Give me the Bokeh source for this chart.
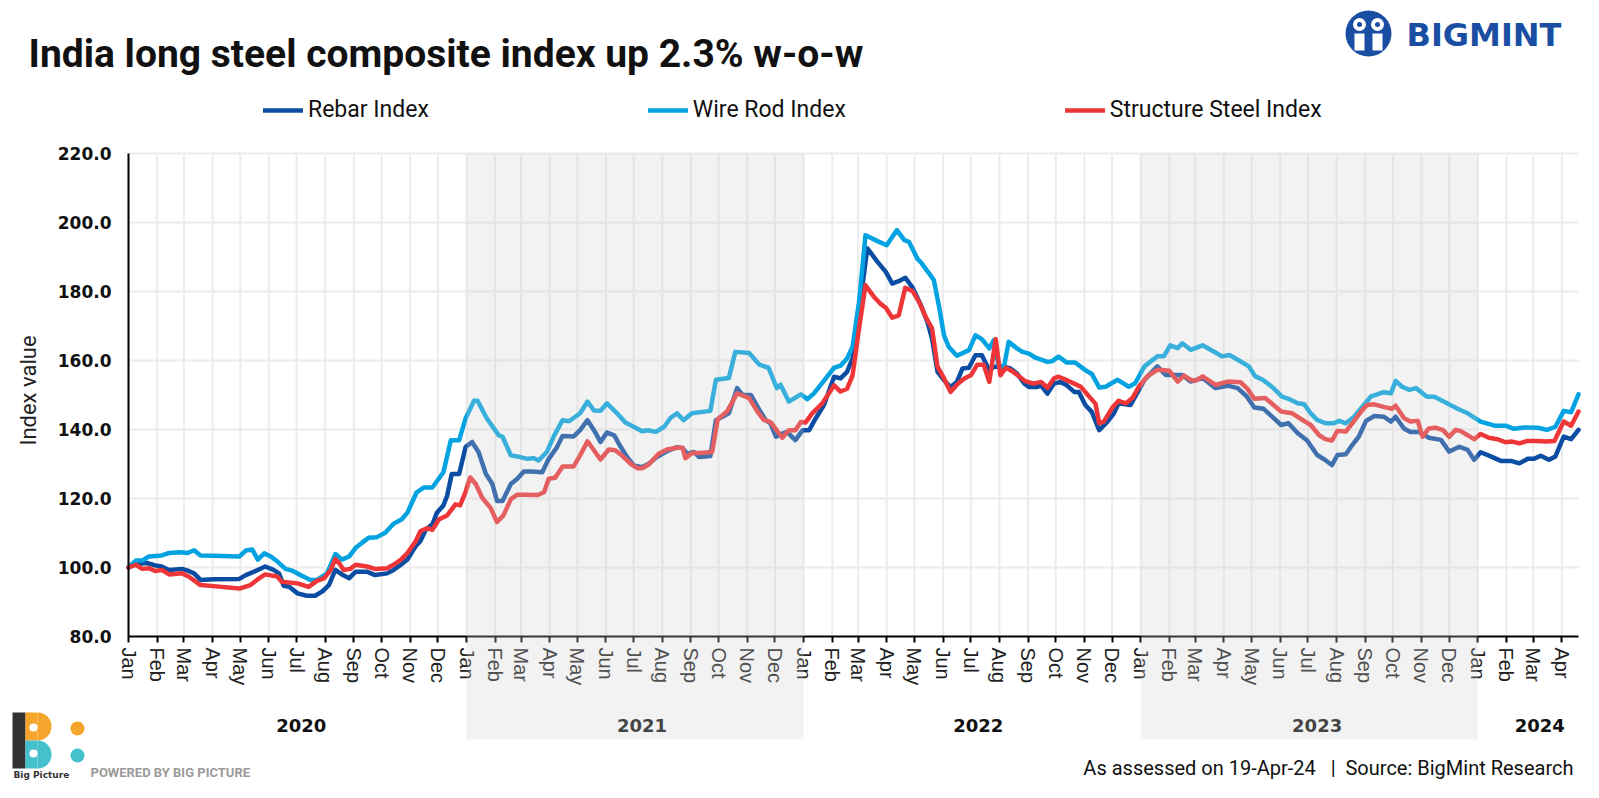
import pandas as pd
from math import pi
from bokeh.plotting import figure
from bokeh.models import (Range1d, FixedTicker, DatetimeTickFormatter, PrintfTickFormatter,
                          BoxAnnotation, Label, Legend, LegendItem)
from bokeh.embed import file_html
from bokeh.resources import INLINE

# ---------------- data (weekly index) ----------------
wire_dates = ["2020-01-01","2020-01-09","2020-01-16","2020-01-23","2020-02-06","2020-02-14","2020-02-26","2020-03-05","2020-03-12","2020-03-19",
"2020-04-02","2020-04-30","2020-05-07","2020-05-14","2020-05-20","2020-05-27","2020-06-03","2020-06-10","2020-06-19","2020-06-26",
"2020-07-05","2020-07-16","2020-07-23","2020-07-29","2020-08-03","2020-08-12","2020-08-19","2020-08-27","2020-09-03","2020-09-10",
"2020-09-17","2020-09-26","2020-10-05","2020-10-14","2020-10-23","2020-10-29","2020-11-08","2020-11-16","2020-11-25","2020-12-07",
"2020-12-15","2020-12-24","2020-12-31","2021-01-09","2021-01-13","2021-01-23","2021-02-05","2021-02-09","2021-02-18","2021-02-25",
"2021-03-08","2021-03-15","2021-03-20","2021-03-29","2021-04-06","2021-04-15","2021-04-22","2021-05-04","2021-05-12","2021-05-19",
"2021-05-26","2021-06-02","2021-06-13","2021-06-22","2021-07-01","2021-07-10","2021-07-16","2021-07-25","2021-08-03","2021-08-10",
"2021-08-17","2021-08-24","2021-09-02","2021-09-22","2021-09-28","2021-10-12","2021-10-19","2021-11-03","2021-11-14","2021-11-24",
"2021-12-03","2021-12-07","2021-12-16","2021-12-29","2022-01-05","2022-01-12","2022-01-25","2022-02-03","2022-02-10","2022-02-17",
"2022-02-23","2022-03-02","2022-03-09","2022-03-22","2022-04-01","2022-04-12","2022-04-20","2022-04-25","2022-05-04","2022-05-09",
"2022-05-17","2022-05-22","2022-05-28","2022-06-02","2022-06-07","2022-06-16","2022-06-29","2022-07-06","2022-07-13","2022-07-21",
"2022-07-26","2022-07-31","2022-08-06","2022-08-11","2022-08-20","2022-08-26","2022-09-02","2022-09-09","2022-09-22","2022-09-27",
"2022-10-04","2022-10-13","2022-10-22","2022-11-02","2022-11-09","2022-11-17","2022-11-24","2022-12-07","2022-12-19","2022-12-26",
"2023-01-05","2023-01-19","2023-01-26","2023-02-02","2023-02-10","2023-02-15","2023-02-24","2023-03-09","2023-03-21","2023-03-30",
"2023-04-07","2023-04-16","2023-04-28","2023-05-05","2023-05-13","2023-05-23","2023-06-03","2023-06-10","2023-06-20","2023-06-27",
"2023-07-04","2023-07-11","2023-07-20","2023-07-29","2023-08-04","2023-08-11","2023-08-20","2023-08-29","2023-09-07","2023-09-21",
"2023-09-29","2023-10-04","2023-10-11","2023-10-19","2023-10-26","2023-11-07","2023-11-15","2023-11-25","2023-12-10","2023-12-21",
"2024-01-04","2024-01-19","2024-01-31","2024-02-09","2024-02-20","2024-03-06","2024-03-16","2024-03-25","2024-04-03","2024-04-11",
"2024-04-19"]
wire_vals = [100.0,102.0,102.0,103.2,103.5,104.2,104.4,104.2,105.0,103.5,
103.4,103.2,104.9,105.2,102.3,104.1,103.2,101.8,99.6,99.1,
97.8,96.4,96.4,97.4,98.3,103.9,102.3,103.2,105.7,107.2,
108.6,108.8,110.1,112.7,114.0,115.9,121.8,123.2,123.2,127.6,
136.9,136.9,143.2,148.3,148.3,143.2,138.3,137.9,132.5,132.2,
131.5,131.7,131.0,133.5,138.3,142.7,142.4,144.7,148.1,145.5,
145.4,147.6,144.7,142.0,140.8,139.5,139.8,139.3,140.8,143.4,
144.7,142.7,144.7,145.4,154.4,154.9,162.5,162.2,158.8,157.9,
152.0,153.0,148.1,150.2,148.8,150.4,154.8,157.9,158.5,160.6,
164.0,177.0,196.3,194.6,193.4,197.8,194.9,194.4,189.6,188.1,
185.2,183.3,175.1,167.3,164.0,161.4,163.0,167.3,166.2,163.5,
165.9,158.6,158.2,165.4,163.5,162.5,162.0,160.8,159.6,159.8,
161.1,159.4,159.4,157.2,156.1,152.2,152.4,154.4,152.4,153.4,
158.3,161.2,161.2,164.4,163.6,165.0,163.1,164.4,162.6,161.2,
161.6,160.2,158.3,155.4,154.4,152.4,149.5,148.9,147.6,147.3,
144.7,142.8,141.8,141.8,142.5,141.8,143.7,146.6,149.5,150.8,
150.5,154.1,152.4,151.5,152.0,149.5,149.5,148.1,146.0,144.7,
142.3,141.1,141.1,140.2,140.6,140.5,139.9,140.8,145.4,145.0,
150.2]

rebar_dates = ["2020-01-01","2020-01-09","2020-01-21","2020-01-30","2020-02-06","2020-02-14","2020-02-28","2020-03-06","2020-03-12","2020-03-19",
"2020-04-02","2020-04-30","2020-05-07","2020-05-16","2020-05-28","2020-06-06","2020-06-12","2020-06-17","2020-06-23","2020-07-02",
"2020-07-12","2020-07-21","2020-07-29","2020-08-05","2020-08-12","2020-08-19","2020-08-27","2020-09-03","2020-09-15","2020-09-24",
"2020-10-07","2020-10-14","2020-10-22","2020-10-29","2020-11-07","2020-11-12","2020-11-18","2020-11-25","2020-11-30","2020-12-07",
"2020-12-11","2020-12-16","2020-12-24","2020-12-31","2021-01-07","2021-01-14","2021-01-22","2021-01-29","2021-02-03","2021-02-09",
"2021-02-18","2021-02-25","2021-03-04","2021-03-13","2021-03-24","2021-03-31","2021-04-09","2021-04-15","2021-04-27","2021-05-04",
"2021-05-12","2021-05-19","2021-05-26","2021-06-02","2021-06-10","2021-06-17","2021-06-24","2021-07-01","2021-07-10","2021-07-17",
"2021-07-26","2021-08-06","2021-08-17","2021-08-23","2021-08-28","2021-09-04","2021-09-10","2021-09-22","2021-09-28","2021-10-12",
"2021-10-21","2021-10-27","2021-11-05","2021-11-14","2021-11-21","2021-11-26","2021-12-02","2021-12-09","2021-12-14","2021-12-23",
"2021-12-31","2022-01-07","2022-01-14","2022-01-23","2022-02-03","2022-02-10","2022-02-17","2022-02-23","2022-03-02","2022-03-11",
"2022-03-22","2022-03-31","2022-04-07","2022-04-14","2022-04-21","2022-04-29","2022-05-08","2022-05-15","2022-05-20","2022-05-26",
"2022-06-02","2022-06-09","2022-06-16","2022-06-22","2022-06-29","2022-07-06","2022-07-13","2022-07-21","2022-07-26","2022-08-06",
"2022-08-13","2022-08-20","2022-08-28","2022-09-02","2022-09-11","2022-09-15","2022-09-22","2022-09-29","2022-10-06","2022-10-13",
"2022-10-21","2022-10-26","2022-11-02","2022-11-09","2022-11-17","2022-11-26","2022-12-03","2022-12-08","2022-12-21","2022-12-26",
"2023-01-05","2023-01-19","2023-01-28","2023-02-04","2023-02-15","2023-02-24","2023-03-09","2023-03-23","2023-04-05","2023-04-16",
"2023-04-26","2023-05-04","2023-05-14","2023-05-25","2023-06-02","2023-06-10","2023-06-20","2023-06-30","2023-07-11","2023-07-20",
"2023-07-27","2023-08-02","2023-08-11","2023-08-18","2023-08-25","2023-09-02","2023-09-11","2023-09-21","2023-09-29","2023-10-04",
"2023-10-13","2023-10-20","2023-10-29","2023-11-09","2023-11-22","2023-12-01","2023-12-12","2023-12-21","2023-12-28","2024-01-04",
"2024-01-15","2024-01-26","2024-02-06","2024-02-15","2024-02-24","2024-03-02","2024-03-09","2024-03-18","2024-03-25","2024-04-03",
"2024-04-11","2024-04-19"]
rebar_vals = [100.0,101.0,101.3,100.6,100.3,99.3,99.6,99.0,98.3,96.4,
96.6,96.7,97.8,98.8,100.3,99.3,98.3,94.7,94.4,92.5,
91.8,91.8,93.1,94.9,99.3,98.0,96.9,98.8,98.8,97.8,
98.3,99.3,100.8,102.3,106.2,107.6,111.0,112.5,115.9,118.0,
120.8,127.1,127.1,134.9,136.4,133.5,127.1,124.2,119.3,119.3,
124.2,125.7,127.8,127.8,127.6,131.5,134.9,138.1,138.0,139.8,
142.7,139.8,136.4,139.1,138.3,134.9,132.0,129.6,129.1,130.0,
132.0,133.7,134.9,134.6,133.0,133.5,132.0,132.3,142.7,144.7,
152.0,150.0,150.0,145.7,142.7,141.8,137.9,138.8,139.3,136.9,
139.8,139.8,143.2,147.1,155.3,154.8,156.7,160.6,174.1,192.5,
188.6,185.7,182.3,183.0,184.0,181.1,176.0,171.2,166.4,156.7,
154.3,152.3,153.8,157.7,157.9,161.5,161.5,157.2,158.2,158.2,
157.7,156.2,153.3,152.3,152.3,152.8,150.4,153.3,153.8,152.8,
150.9,150.9,147.1,145.1,139.8,142.3,144.7,147.6,147.1,149.5,
154.4,158.3,155.8,155.8,155.8,153.9,154.9,152.0,152.7,152.0,
149.5,146.4,146.0,143.3,141.3,141.8,138.9,136.9,132.6,131.1,
129.7,132.6,132.8,135.5,137.9,142.5,143.9,143.7,142.3,143.7,
140.3,139.3,139.3,137.6,137.0,133.6,135.0,134.1,131.2,133.4,
132.2,130.9,130.9,130.2,131.5,131.5,132.4,131.2,132.2,137.9,
137.2,139.9]

struct_dates = ["2020-01-01","2020-01-09","2020-01-16","2020-01-23","2020-01-30","2020-02-06","2020-02-14","2020-02-28","2020-03-06","2020-03-19",
"2020-04-02","2020-04-30","2020-05-12","2020-05-19","2020-05-28","2020-06-10","2020-06-15","2020-07-02","2020-07-14","2020-07-23",
"2020-07-31","2020-08-07","2020-08-12","2020-08-16","2020-08-21","2020-08-28","2020-09-03","2020-09-15","2020-09-24","2020-10-07",
"2020-10-14","2020-10-22","2020-10-29","2020-11-07","2020-11-12","2020-11-19","2020-11-25","2020-12-02","2020-12-11","2020-12-20",
"2020-12-25","2020-12-31","2021-01-05","2021-01-11","2021-01-18","2021-01-27","2021-02-03","2021-02-10","2021-02-18","2021-02-25",
"2021-03-06","2021-03-19","2021-03-26","2021-03-31","2021-04-07","2021-04-15","2021-04-27","2021-05-04","2021-05-12","2021-05-19",
"2021-05-26","2021-06-04","2021-06-11","2021-06-19","2021-06-28","2021-07-05","2021-07-10","2021-07-17","2021-07-28","2021-08-06",
"2021-08-17","2021-08-23","2021-08-26","2021-09-02","2021-09-11","2021-09-24","2021-09-30","2021-10-10","2021-10-21","2021-11-03",
"2021-11-12","2021-11-19","2021-11-26","2021-12-09","2021-12-16","2021-12-23","2021-12-29","2022-01-03","2022-01-10","2022-01-21",
"2022-02-03","2022-02-10","2022-02-17","2022-02-23","2022-03-02","2022-03-09","2022-03-18","2022-03-25","2022-03-31","2022-04-07",
"2022-04-14","2022-04-21","2022-04-29","2022-05-06","2022-05-13","2022-05-20","2022-05-26","2022-06-02","2022-06-09","2022-06-16",
"2022-06-24","2022-07-01","2022-07-08","2022-07-15","2022-07-21","2022-07-28","2022-08-02","2022-08-08","2022-08-13","2022-08-20",
"2022-08-29","2022-09-07","2022-09-15","2022-09-22","2022-09-29","2022-10-04","2022-10-13","2022-10-21","2022-10-28","2022-11-06",
"2022-11-13","2022-11-17","2022-11-22","2022-12-01","2022-12-08","2022-12-16","2022-12-23","2022-12-30","2023-01-08","2023-01-19",
"2023-02-01","2023-02-10","2023-02-17","2023-02-24","2023-03-01","2023-03-09","2023-03-23","2023-04-05","2023-04-19","2023-04-26",
"2023-05-04","2023-05-16","2023-06-02","2023-06-14","2023-06-25","2023-07-04","2023-07-13","2023-07-20","2023-07-27","2023-08-02",
"2023-08-11","2023-08-18","2023-08-29","2023-09-03","2023-09-11","2023-09-23","2023-09-30","2023-10-04","2023-10-13","2023-10-20",
"2023-10-28","2023-11-02","2023-11-09","2023-11-16","2023-11-24","2023-12-01","2023-12-08","2023-12-13","2023-12-28","2024-01-04",
"2024-01-13","2024-01-22","2024-01-31","2024-02-07","2024-02-15","2024-02-24","2024-03-06","2024-03-15","2024-03-24","2024-04-03",
"2024-04-11","2024-04-19"]
struct_vals = [100.0,100.8,99.6,99.8,99.0,99.3,98.0,98.3,97.4,94.9,
94.6,93.9,94.9,96.4,98.0,97.4,95.9,95.4,94.4,96.1,
96.9,99.3,102.5,101.3,99.3,99.6,100.8,100.3,99.6,99.8,
100.8,102.3,104.2,107.6,110.5,111.4,110.9,113.9,115.1,118.3,
118.0,121.9,126.1,124.2,120.2,117.3,113.2,115.1,119.8,121.1,
121.1,121.0,121.8,125.7,126.0,129.3,129.3,132.5,136.6,134.0,
131.3,134.2,134.0,132.3,130.0,128.8,128.8,129.8,133.0,134.2,
134.7,134.7,131.7,133.2,133.2,133.5,143.0,145.2,150.5,149.1,
145.2,142.7,142.2,137.6,139.8,139.8,142.2,142.0,144.6,147.5,
152.8,151.0,151.8,155.7,169.3,181.8,178.5,176.5,175.3,172.4,
173.1,181.1,180.1,177.0,172.7,169.3,158.2,154.8,150.9,153.0,
154.8,155.7,158.8,158.8,153.8,166.2,155.7,157.9,157.2,155.9,
154.0,153.3,153.8,152.1,154.8,155.3,154.3,153.3,152.4,149.6,
147.5,141.8,142.3,146.2,148.3,147.6,149.1,152.4,155.4,157.3,
157.0,153.9,155.6,154.4,154.1,155.4,152.9,153.9,153.7,152.0,
148.9,149.1,145.2,144.7,142.8,141.3,138.4,137.2,136.8,139.6,
139.4,141.8,145.7,147.1,147.3,146.4,146.0,146.9,143.3,142.3,
142.5,137.9,140.3,140.5,139.9,137.9,139.9,139.6,137.2,138.7,
137.6,137.2,136.3,136.5,136.0,136.7,136.7,136.5,136.7,142.3,
141.1,145.2]

series_names = ["Rebar Index", "Wire Rod Index", "Structure Steel Index"]
series_colors = ["#0b4da2", "#02a3e0", "#ee3538"]
y_ticks = [80, 100, 120, 140, 160, 180, 200, 220]
years = ["2020", "2021", "2022", "2023", "2024"]
year_label_dates = ["2020-07-06", "2021-07-10", "2022-07-09", "2023-07-11", "2024-03-08"]
shaded_years = [("2021-01-01", "2022-01-01"), ("2023-01-01", "2024-01-01")]
title_text = "India long steel composite index up 2.3% w-o-w"
footnote_text = "As assessed on 19-Apr-24\u00a0\u00a0 |\u00a0 Source: BigMint Research"

# ---------------- layout helpers (figure pixel -> data) ----------------
W, H = 1583, 782
ORIGIN = pd.Timestamp("2020-01-01")
END = pd.Timestamp("2024-04-19")
AX_LEFT, AX_RIGHT = 128, 1578          # px of ORIGIN / END
Y80, Y220 = 636, 153                   # px of 80 / 220
PPD = (AX_RIGHT - AX_LEFT) / (END - ORIGIN).days
PPU = (Y80 - Y220) / 140.0

def ms(ts):
    return pd.Timestamp(ts).value / 1e6

def fx(px):
    return ms(ORIGIN + pd.Timedelta(days=(px - AX_LEFT) / PPD))

def fy(py):
    return 80 + (Y80 - py) / PPU

p = figure(width=W, height=H, x_axis_type="datetime",
           x_range=Range1d(fx(0), fx(W)), y_range=Range1d(fy(H), fy(0)),
           output_backend="svg", toolbar_location=None,
           min_border_left=0, min_border_right=0, min_border_top=0, min_border_bottom=0)
p.outline_line_color = None
p.xgrid.visible = False
p.ygrid.visible = False
p.background_fill_color = "white"
p.border_fill_color = "white"

month_starts = pd.date_range("2020-01-01", "2024-04-01", freq="MS")
month_ms = [ms(d) for d in month_starts]

# gridlines
p.segment(x0=month_ms, x1=month_ms, y0=[80] * len(month_ms), y1=[220] * len(month_ms),
          line_color="#ececec", line_width=2)
hy = y_ticks[1:]
p.segment(x0=[ms(ORIGIN)] * len(hy), x1=[ms(END)] * len(hy), y0=hy, y1=hy,
          line_color="#ececec", line_width=2)

# axes
xa = p.xaxis[0]
xa.fixed_location = 80
xa.bounds = (ms(ORIGIN), ms(END))
xa.ticker = FixedTicker(ticks=month_ms)
xa.formatter = DatetimeTickFormatter(microseconds="%b", milliseconds="%b", seconds="%b", minsec="%b",
                                     minutes="%b", hourmin="%b", hours="%b", days="%b",
                                     months="%b", years="%b")
xa.major_label_orientation = "vertical"
xa.major_label_text_font = "Liberation Sans"
xa.major_label_text_font_size = "20px"
xa.major_label_text_color = "#222222"
xa.axis_line_color = "black"
xa.axis_line_width = 2
xa.major_tick_line_color = "black"
xa.major_tick_line_width = 2
xa.major_tick_out = 6
xa.major_tick_in = 0
xa.minor_tick_out = 0
xa.minor_tick_in = 0
xa.major_label_standoff = 5

ya = p.yaxis[0]
ya.fixed_location = ms(ORIGIN)
ya.bounds = (80, 220)
ya.ticker = FixedTicker(ticks=y_ticks)
ya.formatter = PrintfTickFormatter(format="%.1f")
ya.major_label_text_font = "DejaVu Sans"
ya.major_label_text_font_style = "bold"
ya.major_label_text_font_size = "17px"
ya.major_label_text_color = "#111111"
ya.axis_line_color = "black"
ya.axis_line_width = 2
ya.major_tick_out = 0
ya.major_tick_in = 0
ya.minor_tick_out = 0
ya.minor_tick_in = 0
ya.major_label_standoff = 17

# series
renderers = []
for d, v, c in [(rebar_dates, rebar_vals, series_colors[0]),
                (wire_dates, wire_vals, series_colors[1]),
                (struct_dates, struct_vals, series_colors[2])]:
    r = p.line(x=pd.to_datetime(d), y=v, line_color=c, line_width=4.5, line_join="round", line_cap="round")
    renderers.append(r)

legend = Legend(items=[LegendItem(label=n, renderers=[r]) for n, r in zip(series_names, renderers)],
                orientation="horizontal", location=(263, H - 123), padding=0, margin=0,
                spacing=219, glyph_width=40, glyph_height=20, label_height=20, label_standoff=5,
                label_text_font="Roboto", label_text_font_size="23px", label_text_color="#111111",
                border_line_color=None, background_fill_alpha=0)
p.add_layout(legend)

# year labels
for yr, d in zip(years, year_label_dates):
    p.add_layout(Label(x=ms(d), y=fy(725), text=yr, text_align="center", text_baseline="middle",
                       text_font="DejaVu Sans", text_font_style="bold", text_font_size="18px",
                       text_color="#111111"))

# shaded years (overlay above lines and labels)
for a, b in shaded_years:
    p.add_layout(BoxAnnotation(left=ms(a), right=ms(b), top=220, bottom=fy(739),
                               fill_color="#d0d0d0", fill_alpha=0.27, line_color=None, level="overlay"))

# texts
p.add_layout(Label(x=28, y=H - 53, x_units="screen", y_units="screen", text=title_text,
                   text_font="Roboto", text_font_style="bold",
                   text_font_size="39px", text_color="#111111", text_baseline="middle"))
p.add_layout(Label(x=28, y=H - 390, x_units="screen", y_units="screen", text="Index value",
                   angle=pi / 2, text_align="center", text_baseline="middle",
                   text_font="Roboto", text_font_size="22px", text_color="#222222"))
p.add_layout(Label(x=1573, y=H - 767, x_units="screen", y_units="screen", text=footnote_text,
                   text_align="right", text_baseline="middle",
                   text_font="Roboto", text_font_size="20px", text_color="#111111"))

# BIGMINT logo
blue = "#1a4ea3"
cx, cy = 1368, 33
p.scatter(x=[fx(cx)], y=[fy(cy)], size=46, marker="circle", fill_color=blue, line_color=None)
p.quad(left=[fx(cx - 14), fx(cx + 4)], right=[fx(cx - 4), fx(cx + 14)], top=[fy(cy), fy(cy)],
       bottom=[fy(cy + 17), fy(cy + 17)], fill_color="white", line_color=None)
p.scatter(x=[fx(cx - 9), fx(cx + 9)], y=[fy(cy - 9), fy(cy - 9)], size=13, marker="circle",
          fill_color="white", line_color=None)
p.scatter(x=[fx(cx - 9), fx(cx + 9)], y=[fy(cy - 9), fy(cy - 9)], size=5, marker="circle",
          fill_color=blue, line_color=None)
p.add_layout(Label(x=1406, y=H - 34, x_units="screen", y_units="screen", text="BIGMINT",
                   text_font="DejaVu Sans", text_font_style="bold", text_font_size="32px",
                   text_color=blue, text_baseline="middle"))

# Big Picture logo
orange, teal = "#f5a52b", "#45c1cd"
top, mid, bot = 712, 740, 768
rb = (mid - top) / 2
p.quad(left=[fx(12)], right=[fx(25)], top=[fy(top)], bottom=[fy(bot)], fill_color="#333333", line_color=None)
p.quad(left=[fx(25)], right=[fx(37)], top=[fy(top)], bottom=[fy(mid)], fill_color=orange, line_color=None)
p.wedge(x=[fx(37)], y=[fy(top + rb)], radius=rb, radius_units="screen", start_angle=-pi / 2,
        end_angle=pi / 2, fill_color=orange, line_color=None)
p.quad(left=[fx(25)], right=[fx(37)], top=[fy(mid)], bottom=[fy(bot)], fill_color=teal, line_color=None)
p.wedge(x=[fx(37)], y=[fy(mid + rb)], radius=rb, radius_units="screen", start_angle=-pi / 2,
        end_angle=pi / 2, fill_color=teal, line_color=None)
p.scatter(x=[fx(33), fx(33)], y=[fy(top + rb + 1), fy(mid + rb - 1)], size=8, marker="circle",
          fill_color="white", line_color=None)
p.scatter(x=[fx(77), fx(77)], y=[fy(top + 16), fy(mid + 15)], size=14, marker="circle",
          fill_color=[orange, teal], line_color=None)
p.add_layout(Label(x=13, y=H - 774, x_units="screen", y_units="screen", text="Big Picture",
                   text_font="DejaVu Sans", text_font_style="bold", text_font_size="9px",
                   text_color="#333333", text_baseline="middle"))
p.add_layout(Label(x=90, y=H - 772, x_units="screen", y_units="screen", text="POWERED BY BIG PICTURE",
                   text_font="Roboto", text_font_style="bold", text_font_size="13px",
                   text_color="#9a9a9a", text_baseline="middle"))

open("out.html", "w").write(file_html(p, INLINE))
